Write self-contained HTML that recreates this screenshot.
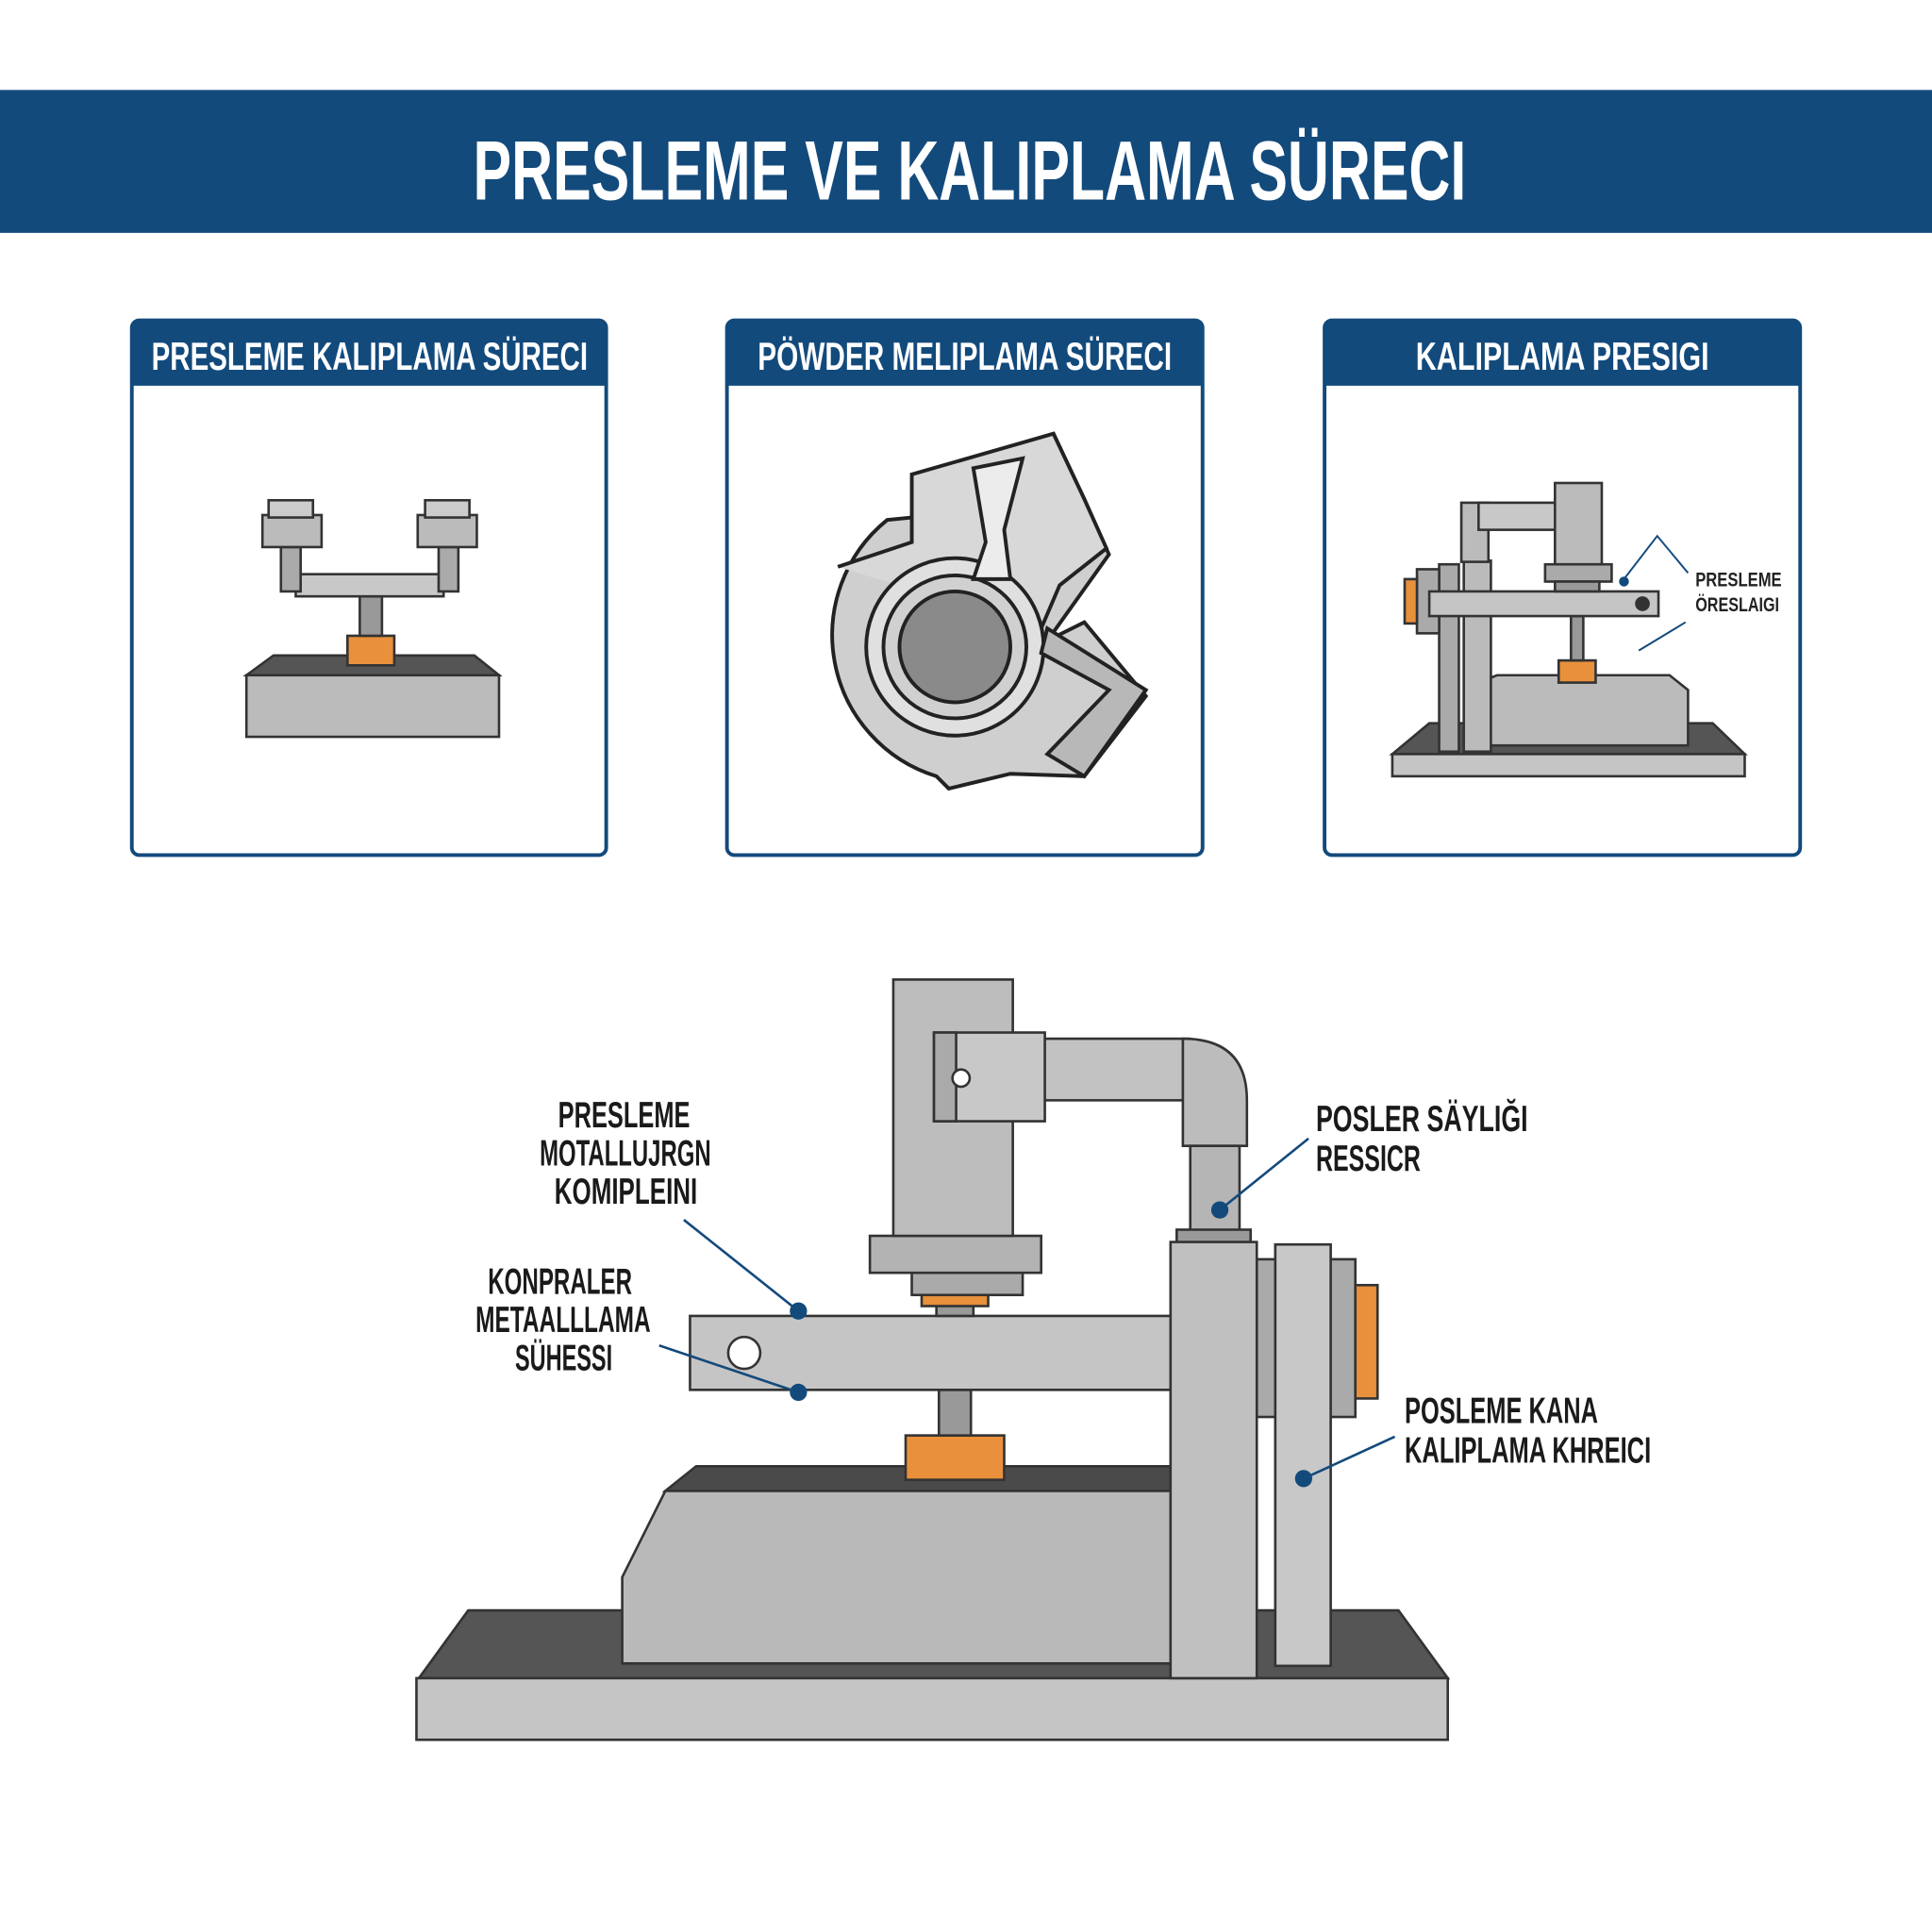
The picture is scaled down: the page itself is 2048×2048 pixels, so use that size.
<!DOCTYPE html>
<html><head><meta charset="utf-8"><style>
html,body{margin:0;padding:0;background:#fff;}
svg{display:block;}
text{font-family:"Liberation Sans Narrow","Liberation Sans",sans-serif;font-weight:bold;}
</style></head><body>
<svg width="2048" height="2048" viewBox="0 0 1568 1568" xmlns="http://www.w3.org/2000/svg">
<rect width="1568" height="1568" fill="#fff"/>
<rect x="0" y="73" width="1568" height="116" fill="#134a7c"/>
<text x="787" y="162" text-anchor="middle" font-size="68" fill="#fff" textLength="806" lengthAdjust="spacingAndGlyphs">PRESLEME VE KALIPLAMA SÜRECI</text>

<g stroke="#134a7c" stroke-width="3" fill="#fff">
<rect x="107" y="260" width="385" height="434" rx="6"/>
<rect x="590" y="260" width="386" height="434" rx="6"/>
<rect x="1075" y="260" width="386" height="434" rx="6"/>
</g>
<g fill="#134a7c">
<path d="M107 266a6 6 0 0 1 6-6h373a6 6 0 0 1 6 6v47h-385z"/>
<path d="M590 266a6 6 0 0 1 6-6h374a6 6 0 0 1 6 6v47h-386z"/>
<path d="M1075 266a6 6 0 0 1 6-6h374a6 6 0 0 1 6 6v47h-386z"/>
</g>
<g fill="#fff" font-size="32" text-anchor="middle">
<text x="300" y="300" textLength="354" lengthAdjust="spacingAndGlyphs">PRESLEME KALIPLAMA SÜRECI</text>
<text x="783" y="300" textLength="336" lengthAdjust="spacingAndGlyphs">PÖWDER MELIPLAMA SÜRECI</text>
<text x="1268" y="300" textLength="238" lengthAdjust="spacingAndGlyphs">KALIPLAMA PRESIGI</text>
</g>

<g stroke="#333" stroke-width="2">
<polygon points="200,548 222,532 385,532 405,548" fill="#555"/>
<rect x="200" y="548" width="205" height="50" fill="#bbb"/>
<rect x="282" y="516" width="38" height="24" fill="#e8903c"/>
<rect x="292" y="484" width="18" height="32" fill="#999"/>
<rect x="240" y="466" width="120" height="18" fill="#c8c8c8"/>
<rect x="228" y="444" width="16" height="36" fill="#aaa"/>
<rect x="356" y="444" width="16" height="36" fill="#aaa"/>
<rect x="213" y="418" width="48" height="26" fill="#bbb"/>
<rect x="218" y="406" width="36" height="14" fill="#ccc"/>
<rect x="339" y="418" width="48" height="26" fill="#bbb"/>
<rect x="345" y="406" width="36" height="14" fill="#ccc"/>
</g>

<g stroke="#222" stroke-width="3" fill="#c9c9c9">
<path d="M740 420 L720 422 A120 120 0 0 0 760 630 L770 640 L820 628 L880 630 L930 565 L880 505 L850 520 L900 450 L880 405 L855 352 L760 380 Z" fill="#cfcfcf"/>
<path d="M680 460 L740 440 L740 385 L855 352 L880 405 L898 445 L860 475 L845 510" fill="#d8d8d8"/>
<circle cx="775" cy="525" r="72" fill="#e0e0e0"/>
<circle cx="775" cy="525" r="58" fill="#d0d0d0"/>
<circle cx="775" cy="525" r="45" fill="#8a8a8a"/>
<path d="M850 510 L930 560 L880 630 L850 612 L900 560 L845 530 Z" fill="#b8b8b8"/>
<path d="M790 380 L800 440 L790 470 L820 470 L815 430 L830 372 Z" fill="#ececec"/>
</g>

<g stroke="#333" stroke-width="2">
<polygon points="1130,612 1160,587 1390,587 1416,612" fill="#555"/>
<rect x="1130" y="612" width="286" height="18" fill="#c5c5c5"/>
<polygon points="1205,552 1215,548 1355,548 1370,560 1370,605 1205,605" fill="#bbb"/>
<rect x="1265" y="536" width="30" height="18" fill="#e8903c"/>
<rect x="1275" y="500" width="10" height="36" fill="#999"/>
<rect x="1168" y="458" width="16" height="152" fill="#aaa"/>
<rect x="1188" y="455" width="22" height="155" fill="#bbb"/>
<rect x="1150" y="462" width="18" height="52" fill="#aaa"/>
<rect x="1140" y="470" width="10" height="36" fill="#e8903c"/>
<rect x="1160" y="480" width="186" height="20" fill="#c5c5c5"/>
<circle cx="1333" cy="490" r="5" fill="#333"/>
<rect x="1186" y="408" width="22" height="48" fill="#bbb"/>
<rect x="1200" y="408" width="70" height="22" fill="#c8c8c8"/>
<rect x="1262" y="392" width="38" height="68" fill="#bbb"/>
<rect x="1254" y="458" width="54" height="14" fill="#aaa"/>
<rect x="1262" y="472" width="36" height="8" fill="#999"/>
</g>
<g stroke="#134a7c" stroke-width="1.5" fill="none">
<path d="M1318 470 L1345 435 L1370 465"/><path d="M1330 528 L1368 505"/>
</g>
<circle cx="1318" cy="472" r="4" fill="#134a7c"/>
<g font-size="16" fill="#222"><text x="1376" y="476" textLength="70" lengthAdjust="spacingAndGlyphs">PRESLEME</text><text x="1376" y="496" textLength="68" lengthAdjust="spacingAndGlyphs">ÖRESLAIGI</text></g>

<g stroke="#333" stroke-width="2">
<polygon points="340,1362 380,1307 1135,1307 1175,1362" fill="#555"/>
<rect x="338" y="1362" width="837" height="50" fill="#c5c5c5"/>
<polygon points="540,1210 565,1190 950,1190 950,1210" fill="#4a4a4a"/>
<polygon points="505,1280 540,1210 950,1210 950,1350 505,1350" fill="#b9b9b9"/>
<rect x="735" y="1165" width="80" height="36" fill="#e8903c"/>
<rect x="762" y="1128" width="26" height="37" fill="#999"/>
<rect x="560" y="1068" width="392" height="60" fill="#c5c5c5"/>
<circle cx="604" cy="1098" r="13" fill="#fff"/>
<rect x="760" y="1058" width="30" height="10" fill="#999"/>
<rect x="748" y="1050" width="54" height="10" fill="#e8903c"/>
<rect x="740" y="1033" width="90" height="18" fill="#aaa"/>
<rect x="706" y="1003" width="139" height="30" fill="#b3b3b3"/>
<rect x="725" y="795" width="97" height="208" fill="#bdbdbd"/>
<rect x="845" y="843" width="120" height="50" fill="#c2c2c2"/>
<path d="M960 843 Q1012 843 1012 893 L1012 930 L960 930 Z" fill="#bcbcbc"/>
<rect x="966" y="930" width="40" height="70" fill="#b5b5b5"/>
<rect x="758" y="838" width="90" height="72" fill="#c8c8c8"/>
<rect x="758" y="838" width="18" height="72" fill="#aaa"/>
<circle cx="780" cy="875" r="7" fill="#fff"/>
<rect x="955" y="998" width="60" height="12" fill="#999"/>
<rect x="1020" y="1022" width="80" height="128" fill="#aaa"/>
<rect x="1100" y="1043" width="18" height="92" fill="#e8903c"/>
<rect x="950" y="1008" width="70" height="354" fill="#c0c0c0"/>
<rect x="1035" y="1010" width="45" height="342" fill="#c8c8c8"/>
</g>
<g stroke="#134a7c" stroke-width="2" fill="none">
<path d="M555 990 L648 1064"/><path d="M535 1092 L648 1130"/>
<path d="M990 982 L1062 924"/><path d="M1058 1200 L1132 1166"/>
</g>
<g fill="#134a7c">
<circle cx="648" cy="1064" r="7"/><circle cx="648" cy="1130" r="7"/>
<circle cx="990" cy="982" r="7"/><circle cx="1058" cy="1200" r="7"/>
</g>
<g font-size="30" fill="#1a1a1a" lengthAdjust="spacingAndGlyphs">
<text x="453" y="915" textLength="107" lengthAdjust="spacingAndGlyphs">PRESLEME</text>
<text x="438" y="946" textLength="139" lengthAdjust="spacingAndGlyphs">MOTALLUJRGN</text>
<text x="450" y="977" textLength="116" lengthAdjust="spacingAndGlyphs">KOMIPLEINI</text>
<text x="396" y="1050" textLength="117" lengthAdjust="spacingAndGlyphs">KONPRALER</text>
<text x="386" y="1081" textLength="142" lengthAdjust="spacingAndGlyphs">METAALLLAMA</text>
<text x="418" y="1112" textLength="79" lengthAdjust="spacingAndGlyphs">SÜHESSI</text>
<text x="1068" y="918" textLength="172" lengthAdjust="spacingAndGlyphs">POSLER SÄYLIĞI</text>
<text x="1068" y="950" textLength="85" lengthAdjust="spacingAndGlyphs">RESSICR</text>
<text x="1140" y="1155" textLength="157" lengthAdjust="spacingAndGlyphs">POSLEME KANA</text>
<text x="1140" y="1187" textLength="200" lengthAdjust="spacingAndGlyphs">KALIPLAMA KHREICI</text>
</g>
</svg>
</body></html>
